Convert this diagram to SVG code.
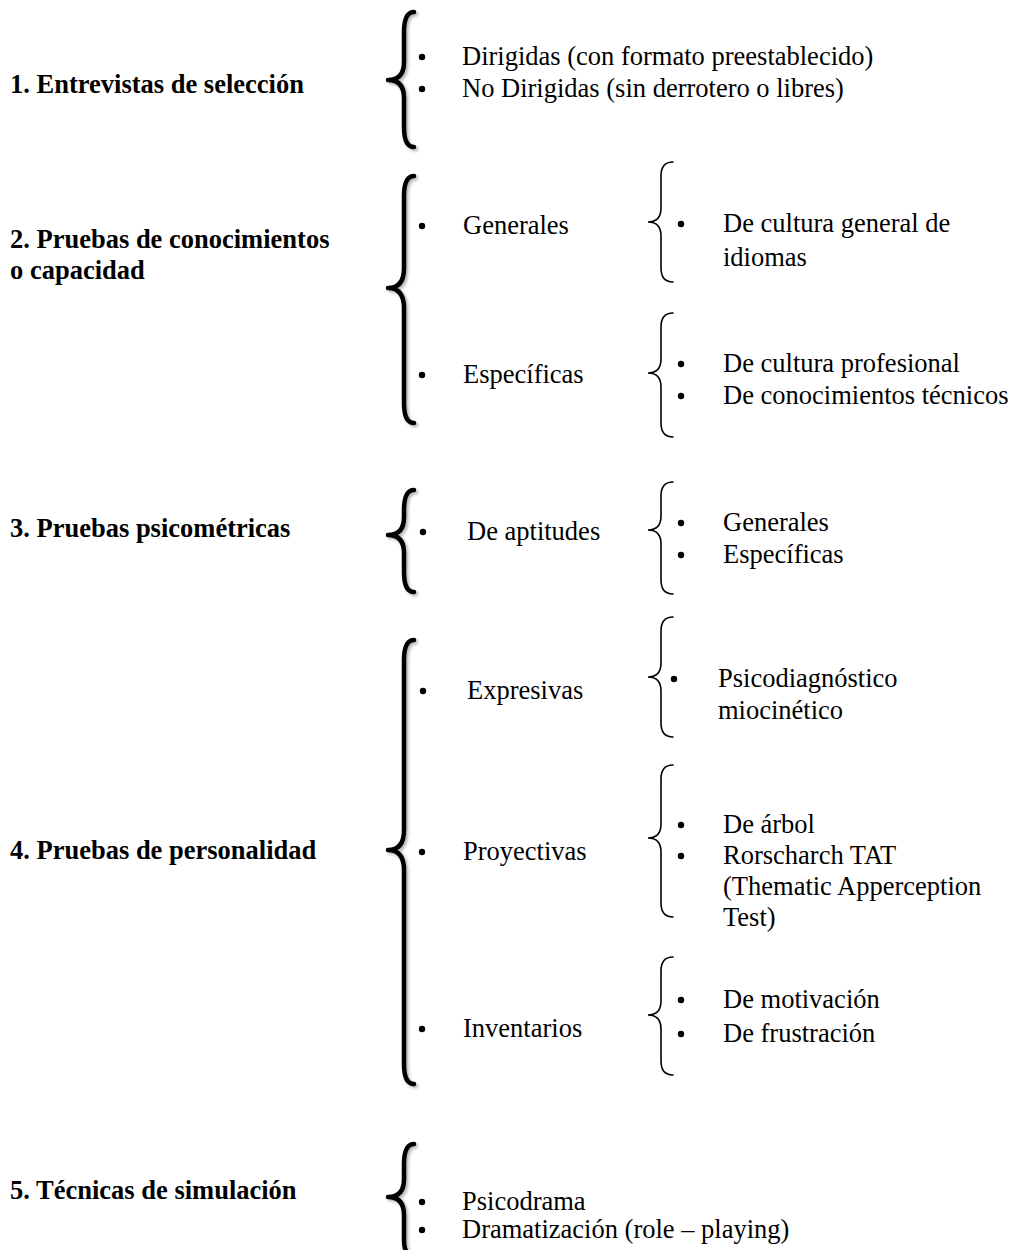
<svg xmlns="http://www.w3.org/2000/svg" width="1014" height="1250" viewBox="0 0 1014 1250">
<defs>
<style>
text{font-family:"Liberation Serif","Times New Roman",serif;font-size:26.5px;fill:#000}
.t{font-weight:bold}
.bm{fill:none;stroke:#000;stroke-width:4.5;stroke-linecap:round;stroke-linejoin:round;filter:url(#sh)}
.bi{fill:none;stroke:#000;stroke-width:1.6;stroke-linecap:round}
.dot{fill:#000}
</style>
<filter id="sh" x="-50%" y="-10%" width="200%" height="120%">
<feDropShadow dx="2" dy="2" stdDeviation="1.5" flood-color="#000" flood-opacity="0.3"/>
</filter>
</defs>
<rect width="1014" height="1250" fill="#fff"/>

<g id="connectors">
<path class="bm" d="M414,12 Q404,12 404,32 L404,62 Q404,80 388,80 Q404,80 404,98 L404,127 Q404,147 414,147"/>
<path class="bm" d="M414,176 Q404,176 404,196 L404,268 Q404,288 388,288 Q404,288 404,308 L404,403 Q404,423 414,423"/>
<path class="bm" d="M414,490 Q404,490 404,510 L404,517 Q404,535 388,535 Q404,535 404,553 L404,572 Q404,592 414,592"/>
<path class="bm" d="M414,640 Q404,640 404,660 L404,830 Q404,850 388,850 Q404,850 404,870 L404,1064 Q404,1084 414,1084"/>
<path class="bm" d="M414,1144 Q404,1144 404,1164 L404,1179 Q404,1197 388,1197 Q404,1197 404,1215 L404,1240 Q404,1256 414,1256"/>

<path class="bi" d="M673,162 Q661,162 661,176 L661,208 Q661,222 648,222 Q661,222 661,236 L661,268 Q661,282 673,282"/>
<path class="bi" d="M673,313 Q661,313 661,327 L661,359 Q661,373 648,373 Q661,373 661,387 L661,423 Q661,437 673,437"/>
<path class="bi" d="M673,482 Q661,482 661,496 L661,516 Q661,530 648,530 Q661,530 661,544 L661,580 Q661,594 673,594"/>
<path class="bi" d="M673,617 Q661,617 661,631 L661,663 Q661,677 648,677 Q661,677 661,691 L661,723 Q661,737 673,737"/>
<path class="bi" d="M673,765 Q661,765 661,779 L661,824 Q661,838 648,838 Q661,838 661,852 L661,903 Q661,917 673,917"/>
<path class="bi" d="M673,957 Q661,957 661,971 L661,1001 Q661,1015 648,1015 Q661,1015 661,1029 L661,1061 Q661,1075 673,1075"/>
</g>

<g id="n1">
<text class="t" x="10" y="93">1. Entrevistas de selección</text>
<circle class="dot" cx="422" cy="57" r="3.2"/>
<text x="462" y="65">Dirigidas (con formato preestablecido)</text>
<circle class="dot" cx="422" cy="89" r="3.2"/>
<text x="462" y="97">No Dirigidas (sin derrotero o libres)</text>
</g>

<g id="n2">
<text class="t" x="10" y="248">2. Pruebas de conocimientos</text>
<text class="t" x="10" y="279">o capacidad</text>
<circle class="dot" cx="422" cy="226" r="3.2"/>
<text x="463" y="234">Generales</text>
<circle class="dot" cx="681" cy="224" r="3.2"/>
<text x="723" y="232">De cultura general de</text>
<text x="723" y="266">idiomas</text>
<circle class="dot" cx="422" cy="375" r="3.2"/>
<text x="463" y="383">Específicas</text>
<circle class="dot" cx="681" cy="364" r="3.2"/>
<text x="723" y="372">De cultura profesional</text>
<circle class="dot" cx="681" cy="396" r="3.2"/>
<text x="723" y="404">De conocimientos técnicos</text>
</g>

<g id="n3">
<text class="t" x="10" y="537">3. Pruebas psicométricas</text>
<circle class="dot" cx="423" cy="532" r="3.2"/>
<text x="467" y="540">De aptitudes</text>
<circle class="dot" cx="681" cy="523" r="3.2"/>
<text x="723" y="531">Generales</text>
<circle class="dot" cx="681" cy="555" r="3.2"/>
<text x="723" y="563">Específicas</text>
</g>

<g id="n4">
<text class="t" x="10" y="859">4. Pruebas de personalidad</text>
<circle class="dot" cx="423" cy="691" r="3.2"/>
<text x="467" y="699">Expresivas</text>
<circle class="dot" cx="674" cy="679" r="3.2"/>
<text x="718" y="687">Psicodiagnóstico</text>
<text x="718" y="719">miocinético</text>
<circle class="dot" cx="422" cy="852" r="3.2"/>
<text x="463" y="860">Proyectivas</text>
<circle class="dot" cx="681" cy="825" r="3.2"/>
<text x="723" y="833">De árbol</text>
<circle class="dot" cx="681" cy="856" r="3.2"/>
<text x="723" y="864">Rorscharch TAT</text>
<text x="723" y="895">(Thematic Apperception</text>
<text x="723" y="926">Test)</text>
<circle class="dot" cx="422" cy="1029" r="3.2"/>
<text x="463" y="1037">Inventarios</text>
<circle class="dot" cx="681" cy="1000" r="3.2"/>
<text x="723" y="1008">De motivación</text>
<circle class="dot" cx="681" cy="1034" r="3.2"/>
<text x="723" y="1042">De frustración</text>
</g>

<g id="n5">
<text class="t" x="10" y="1199">5. Técnicas de simulación</text>
<circle class="dot" cx="422" cy="1202" r="3.2"/>
<text x="462" y="1210">Psicodrama</text>
<circle class="dot" cx="422" cy="1230" r="3.2"/>
<text x="462" y="1238">Dramatización (role – playing)</text>
</g>
</svg>
